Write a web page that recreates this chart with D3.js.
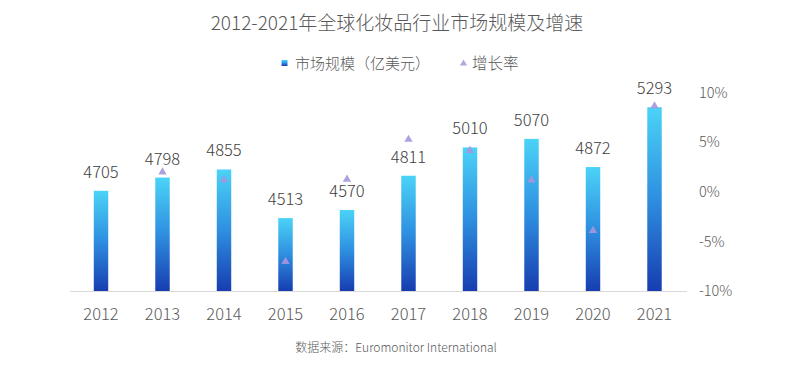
<!DOCTYPE html>
<html>
<head>
<meta charset="utf-8">
<script src="https://cdn.jsdelivr.net/npm/d3@7"></script>
<style>
  body { margin: 0; background: #fff; }
  svg { font-family: "Noto Sans CJK SC", "Noto Sans", sans-serif; font-weight: 300; }
</style>
</head>
<body>
<div id="chart"></div>
<script>
const years = ["2012", "2013", "2014", "2015", "2016", "2017", "2018", "2019", "2020", "2021"];
const marketSize = [4705, 4798, 4855, 4513, 4570, 4811, 5010, 5070, 4872, 5293];
const growthRate = [null, 1.98, 1.19, -7.04, 1.26, 5.27, 4.14, 1.18, -3.91, 8.64];
const rateTicks = [-10, -5, 0, 5, 10];

const width = 794, height = 376;

const svg = d3.select("#chart").append("svg")
  .attr("width", width)
  .attr("height", height);

const defs = svg.append("defs");
const grad = defs.append("linearGradient")
  .attr("id", "barGrad")
  .attr("x1", 0).attr("y1", 0).attr("x2", 0).attr("y2", 1);
grad.append("stop").attr("offset", "0%").attr("stop-color", "#4bd3f7");
grad.append("stop").attr("offset", "50%").attr("stop-color", "#2e8fe0");
grad.append("stop").attr("offset", "100%").attr("stop-color", "#173db0");

const x = d3.scaleBand()
  .domain(years)
  .range([70.25, 685.25])
  .paddingInner(0.765)
  .paddingOuter(0.3825);

const y = d3.scaleLinear()
  .domain([4000, 5400])
  .range([291, 92]);

const yRate = d3.scaleLinear()
  .domain([-10, 10])
  .range([291, 92.5]);

// title
svg.append("text")
  .attr("x", 397)
  .attr("y", 30)
  .attr("text-anchor", "middle")
  .style("font-size", "19px")
  .style("fill", "#595959")
  .text("2012-2021年全球化妆品行业市场规模及增速");

// legend
const legend = svg.append("g");
legend.append("rect")
  .attr("x", 281.5).attr("y", 60)
  .attr("width", 6).attr("height", 6)
  .attr("fill", "url(#barGrad)");
legend.append("text")
  .attr("x", 295).attr("y", 68.5)
  .style("font-size", "15px")
  .style("fill", "#595959")
  .text("市场规模（亿美元）");
legend.append("path")
  .attr("d", d3.symbol(d3.symbolTriangle, 22)())
  .attr("transform", "translate(463.5,63.5)")
  .attr("fill", "#b3a8de");
legend.append("text")
  .attr("x", 472).attr("y", 68.5)
  .style("font-size", "15.5px")
  .style("fill", "#595959")
  .text("增长率");

// bars
svg.selectAll(".bar")
  .data(marketSize)
  .enter()
  .append("rect")
  .attr("class", "bar")
  .attr("x", (d, i) => x(years[i]))
  .attr("y", d => y(d))
  .attr("width", x.bandwidth())
  .attr("height", d => y(4000) - y(d))
  .attr("fill", "url(#barGrad)");

// baseline
svg.append("line")
  .attr("x1", 70).attr("x2", 687)
  .attr("y1", y(4000) + 0.5).attr("y2", y(4000) + 0.5)
  .attr("stroke", "#d9d9d9")
  .attr("stroke-width", 1);

// value labels
svg.selectAll(".val")
  .data(marketSize)
  .enter()
  .append("text")
  .attr("class", "val")
  .attr("x", (d, i) => x(years[i]) + x.bandwidth() / 2)
  .attr("y", d => y(d) - 13)
  .attr("text-anchor", "middle")
  .style("font-size", "16.5px")
  .style("fill", "#404040")
  .text(d => d);

// growth triangles
svg.selectAll(".tri")
  .data(growthRate.map((r, i) => ({ r, year: years[i] })).filter(d => d.r !== null))
  .enter()
  .append("path")
  .attr("class", "tri")
  .attr("d", d3.symbol(d3.symbolTriangle, 30)())
  .attr("transform", d => `translate(${x(d.year) + x.bandwidth() / 2},${yRate(d.r)})`)
  .attr("fill", "#a696dc")
  .attr("fill-opacity", 0.9);

// x axis labels
const xAxis = svg.append("g")
  .attr("transform", "translate(0,291)")
  .call(d3.axisBottom(x).tickSize(0).tickPadding(17));
xAxis.select(".domain").remove();
xAxis.selectAll("text")
  .style("font-size", "16.5px")
  .style("fill", "#595959")
  .style("font-family", "'Noto Sans CJK SC', sans-serif")
  .style("font-weight", 300);

// right axis
const yAxis = svg.append("g")
  .attr("transform", "translate(699,0)")
  .call(d3.axisRight(yRate).tickValues(rateTicks).tickSize(0).tickPadding(0).tickFormat(d => d + "%"));
yAxis.select(".domain").remove();
yAxis.selectAll("text")
  .style("font-size", "14.5px")
  .style("fill", "#595959")
  .style("font-family", "'Noto Sans CJK SC', sans-serif")
  .style("font-weight", 300);

// source
svg.append("text")
  .attr("x", 396)
  .attr("y", 351.5)
  .attr("text-anchor", "middle")
  .style("font-size", "12px")
  .style("fill", "#595959")
  .text("数据来源：Euromonitor International");
</script>
</body>
</html>
